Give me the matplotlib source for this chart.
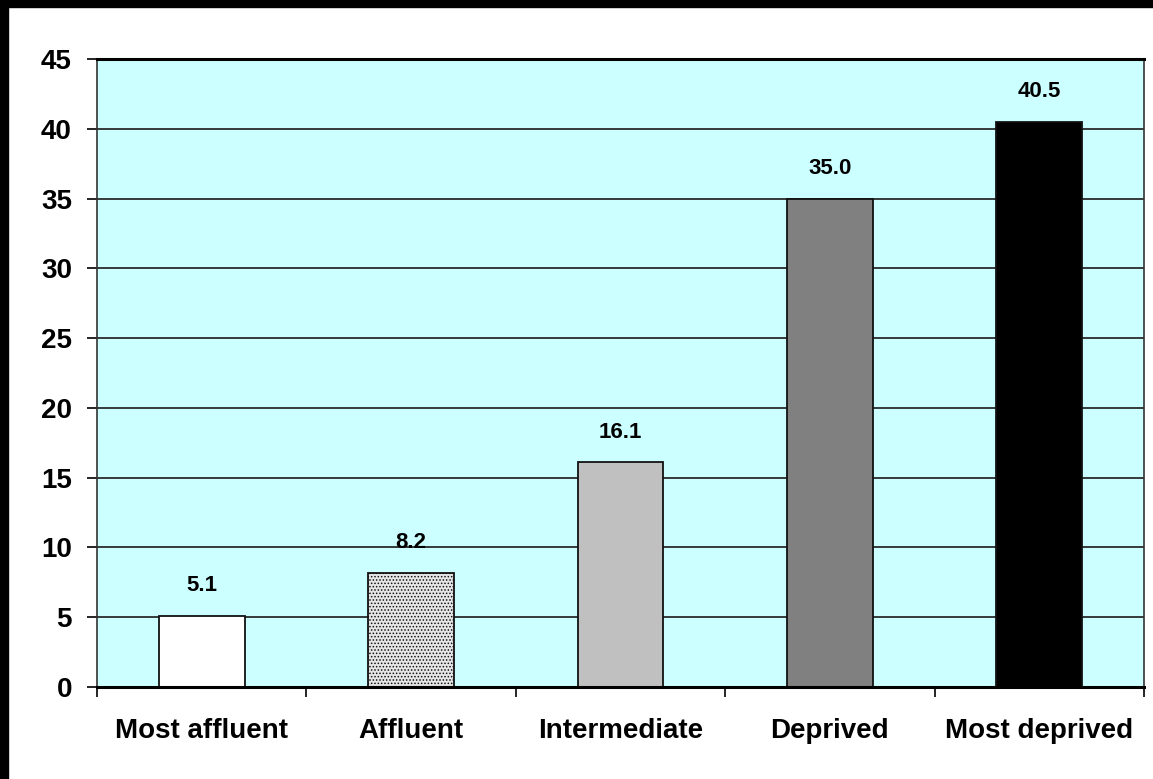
import matplotlib
matplotlib.use("Agg")
import matplotlib.pyplot as plt
from matplotlib.patches import Rectangle

categories = ["Most affluent", "Affluent", "Intermediate", "Deprived", "Most deprived"]
values = [5.1, 8.2, 16.1, 35.0, 40.5]
bar_colors = ["#ffffff", "#e6e6e6", "#c0c0c0", "#808080", "#000000"]
y_ticks = [0, 5, 10, 15, 20, 25, 30, 35, 40, 45]

plt.rcParams["font.family"] = ["Liberation Sans", "DejaVu Sans"]
plt.rcParams["font.weight"] = "bold"
plt.rcParams["hatch.color"] = "#9a9a9a"
plt.rcParams["hatch.linewidth"] = 0.7

fig = plt.figure(figsize=(11.53, 7.79), dpi=100, facecolor="white")
ax = fig.add_axes([97 / 1153, 92 / 779, 1047 / 1153, 628 / 779])
ax.set_facecolor("#ccffff")

x = list(range(len(categories)))
for yv in y_ticks[1:-1]:
    ax.axhline(yv, color="#2a2a2a", lw=1.3, zorder=1)

bars = ax.bar(x, values, width=0.41, color=bar_colors, edgecolor="#111111",
              linewidth=1.3, zorder=2)
bars[1].set_hatch(".....")

for xi, v in zip(x, values):
    ax.annotate(f"{v:.1f}", (xi, v), xytext=(0, 14), textcoords="offset points",
                ha="center", va="bottom", fontsize=16, fontweight="bold")

ax.set_xlim(-0.5, len(categories) - 0.5)
ax.set_ylim(0, 45)
ax.set_yticks(y_ticks)
ax.set_yticklabels([str(t) for t in y_ticks], fontsize=20, fontweight="bold")
ax.tick_params(axis="y", direction="out", length=7, width=1.2, pad=11)

ax.set_xticks(x)
ax.set_xticklabels(categories, fontsize=20, fontweight="bold")
ax.tick_params(axis="x", which="major", length=0, pad=22)
ax.set_xticks([i + 0.5 for i in range(-1, len(categories))], minor=True)
ax.tick_params(axis="x", which="minor", direction="out", length=7, width=1.2)

ax.spines["top"].set_linewidth(2.2)
ax.spines["top"].set_color("black")
ax.spines["bottom"].set_linewidth(2.2)
ax.spines["left"].set_linewidth(1.2)
ax.spines["left"].set_color("#333333")
ax.spines["right"].set_linewidth(1.2)
ax.spines["right"].set_color("#333333")

# dark frame along the top and left edges of the canvas
fig.patches.append(Rectangle((0, 772 / 779), 1, 7 / 779, transform=fig.transFigure,
                             color="black", zorder=10))
fig.patches.append(Rectangle((0, 0), 8 / 1153, 1, transform=fig.transFigure,
                             color="black", zorder=10))

fig.savefig("out.png", dpi=100, facecolor="white")
